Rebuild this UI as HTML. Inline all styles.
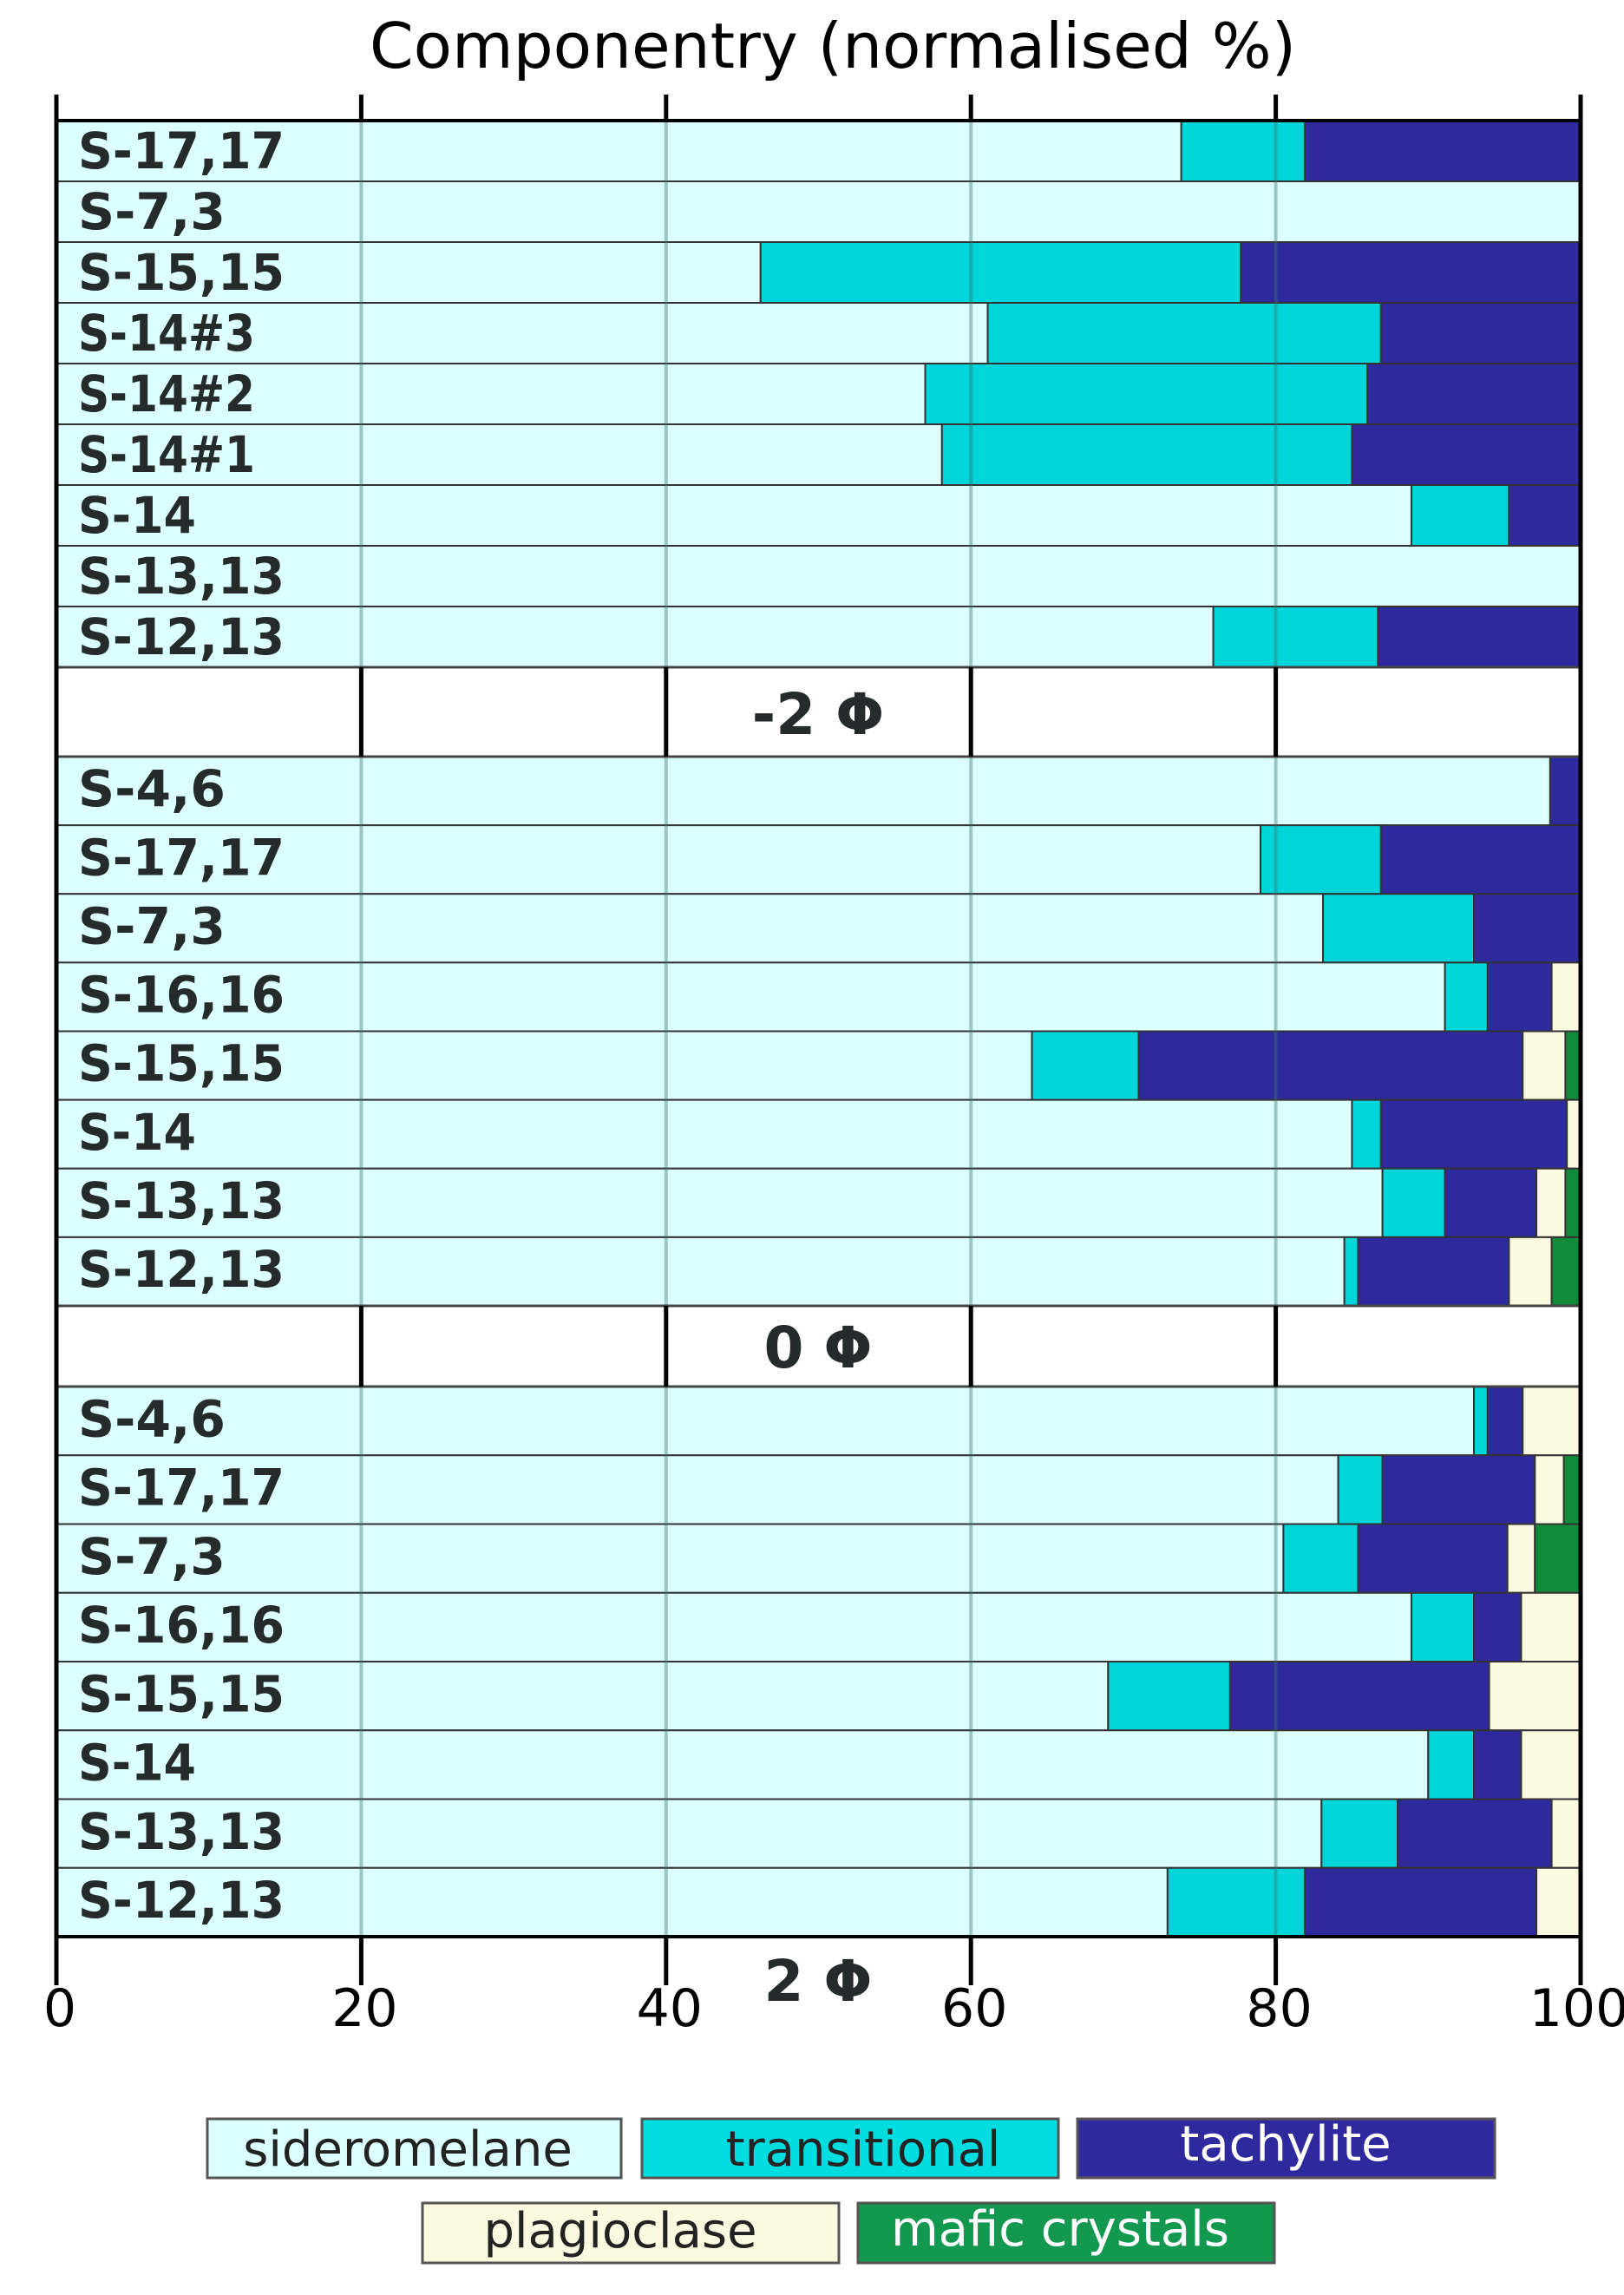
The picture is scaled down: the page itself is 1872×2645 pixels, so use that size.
<!DOCTYPE html>
<html><head><meta charset="utf-8"><style>
html,body{margin:0;padding:0;background:#fff;}
svg{display:block;}
</style></head><body>
<svg id="chart" width="1872" height="2645" viewBox="0 0 1872 2645" xmlns="http://www.w3.org/2000/svg" font-family="'DejaVu Sans','Liberation Sans',sans-serif">
<text x="960" y="78" font-size="72" text-anchor="middle" fill="#000" textLength="1068" lengthAdjust="spacingAndGlyphs">Componentry (normalised %)</text>
<g id="bars"></g>
<g id="axes"></g>
<g id="legend">
 <rect x="239" y="2442" width="477" height="68" fill="#dcffff" stroke="#555" stroke-width="3"/>
 <text x="470" y="2496" font-size="56" text-anchor="middle" fill="#222">sideromelane</text>
 <rect x="740" y="2442" width="480" height="68" fill="#00dde0" stroke="#555" stroke-width="3"/>
 <text x="995" y="2496" font-size="56" text-anchor="middle" fill="#222">transitional</text>
 <rect x="1242" y="2442" width="481" height="68" fill="#2e2a9e" stroke="#555" stroke-width="3"/>
 <text x="1482" y="2490" font-size="56" text-anchor="middle" fill="#fff">tachylite</text>
 <rect x="487" y="2539" width="480" height="69" fill="#fafae0" stroke="#555" stroke-width="3"/>
 <text x="715" y="2590" font-size="56" text-anchor="middle" fill="#222">plagioclase</text>
 <rect x="989" y="2539" width="480" height="69" fill="#13984f" stroke="#555" stroke-width="3"/>
 <text x="1222" y="2588" font-size="56" text-anchor="middle" fill="#fff">mafic crystals</text>
</g>
</svg>
<script>
// data
const labelsA = ["S-17,17","S-7,3","S-15,15","S-14#3","S-14#2","S-14#1","S-14","S-13,13","S-12,13"];
const labelsB = ["S-4,6","S-17,17","S-7,3","S-16,16","S-15,15","S-14","S-13,13","S-12,13"];
const labelsC = ["S-4,6","S-17,17","S-7,3","S-16,16","S-15,15","S-14","S-13,13","S-12,13"];
const sideroA = [73.8,100,46.2,61.1,57.0,58.1,88.9,100,75.9];
const transA  = [8.1,0,31.5,25.8,29.0,26.9,6.4,0,10.8];
const tachyA  = [18.1,0,22.3,13.1,14.0,15.0,4.7,0,13.3];
const sideroB = [98.0,79.0,83.1,91.1,64.0,85.0,87.0,84.5];
const transB  = [0,7.9,9.9,2.8,7.0,1.9,4.1,0.9];
const tachyB  = [2.0,13.1,7.0,4.2,25.2,12.2,6.0,9.9];
const plagB   = [0,0,0,1.9,2.8,0.9,1.9,2.8];
const maficB  = [0,0,0,0,1.0,0,1.0,1.9];
const sideroC = [93.0,84.1,80.5,88.9,69.0,90.0,83.0,72.9];
const transC  = [0.9,2.9,4.9,4.1,8.0,3.0,5.0,9.0];
const tachyC  = [2.3,10.0,9.8,3.1,17.0,3.1,10.1,15.2];
const plagC   = [3.8,1.9,1.8,3.9,6.0,3.9,1.9,2.9];
const maficC  = [0,1.1,3.0,0,0,0,0,0];
const xTicks = [0,20,40,60,80,100];
const gapLabels = ["-2 Φ","0 Φ","2 Φ"];

const NS="http://www.w3.org/2000/svg";
const X0=65, X1=1822;
const xs=v=>X0+(X1-X0)*v/100;
const colors=["#dcffff","#00d6d9","#2e2a9e","#fafae0","#118a3a"];
const compNames=["sideromelane","transitional","tachylite","plagioclase","mafic"];
const bars=document.getElementById('bars');
const axes=document.getElementById('axes');
function mk(tag,attrs,parent){const e=document.createElementNS(NS,tag);for(const k in attrs)e.setAttribute(k,attrs[k]);parent.appendChild(e);return e;}

function section(labels,series,y0,y1,secName){
  const h=(y1-y0)/labels.length;
  labels.forEach((lab,i)=>{
    const y=y0+i*h;
    let acc=0;
    const total=series.reduce((s,a)=>s+a[i],0);
    series.forEach((arr,k)=>{
      const v=arr[i]/total*100;
      if(v<=0)return;
      const r=mk('rect',{x:xs(acc),y:y,width:xs(acc+v)-xs(acc),height:h,fill:colors[k],stroke:"#333","stroke-width":2},bars);
      
      
      acc+=v;
    });
    const t=mk('text',{x:90,y:y+h-(h>75?22:15),"font-size":58,"font-weight":"bold",fill:"#252a2a",textLength:lab.length*34,lengthAdjust:"spacingAndGlyphs"},bars);
    t.textContent=lab;
    
    
  });
  [20,40,60,80].forEach(v=>{
    const g=mk('line',{x1:xs(v),x2:xs(v),y1:y0,y2:y1,stroke:"rgba(60,110,110,0.4)","stroke-width":4},bars);
    
    
  });
}
section(labelsA,[sideroA,transA,tachyA],139,769,'coarse');
section(labelsB,[sideroB,transB,tachyB,plagB,maficB],872,1505,'medium');
section(labelsC,[sideroC,transC,tachyC,plagC,maficC],1598,2232,'fine');

[[769,872],[1505,1598]].forEach(([a,b])=>{
  mk('line',{x1:X0,x2:X1,y1:a,y2:a,stroke:"#444","stroke-width":3},axes);
  mk('line',{x1:X0,x2:X1,y1:b,y2:b,stroke:"#444","stroke-width":3},axes);
  [20,40,60,80].forEach(v=>mk('line',{x1:xs(v),x2:xs(v),y1:a,y2:b,stroke:"#000","stroke-width":5},axes));
});
mk('line',{x1:X0,x2:X0,y1:109,y2:2288,stroke:"#000","stroke-width":5},axes);
mk('line',{x1:X1,x2:X1,y1:109,y2:2288,stroke:"#000","stroke-width":5},axes);
mk('line',{x1:X0,x2:X1,y1:139,y2:139,stroke:"#000","stroke-width":4},axes);
mk('line',{x1:X0,x2:X1,y1:2232,y2:2232,stroke:"#000","stroke-width":4},axes);
xTicks.forEach(v=>{
  mk('line',{x1:xs(v),x2:xs(v),y1:109,y2:139,stroke:"#000","stroke-width":5},axes);
  mk('line',{x1:xs(v),x2:xs(v),y1:2232,y2:2288,stroke:"#000","stroke-width":5},axes);
  const t=mk('text',{x:xs(v)+(v===100?-2:4),y:2335,"font-size":60,"text-anchor":"middle",fill:"#000"},axes);
  t.textContent=v;
  
  
});
const gy=[846,1576,2306];
gapLabels.forEach((g,i)=>{
  const t=mk('text',{x:943,y:gy[i],"font-size":66,"font-weight":"bold","text-anchor":"middle",fill:"#252a2a"},axes);
  t.textContent=g;
  
  
});
</script>
</body></html>
